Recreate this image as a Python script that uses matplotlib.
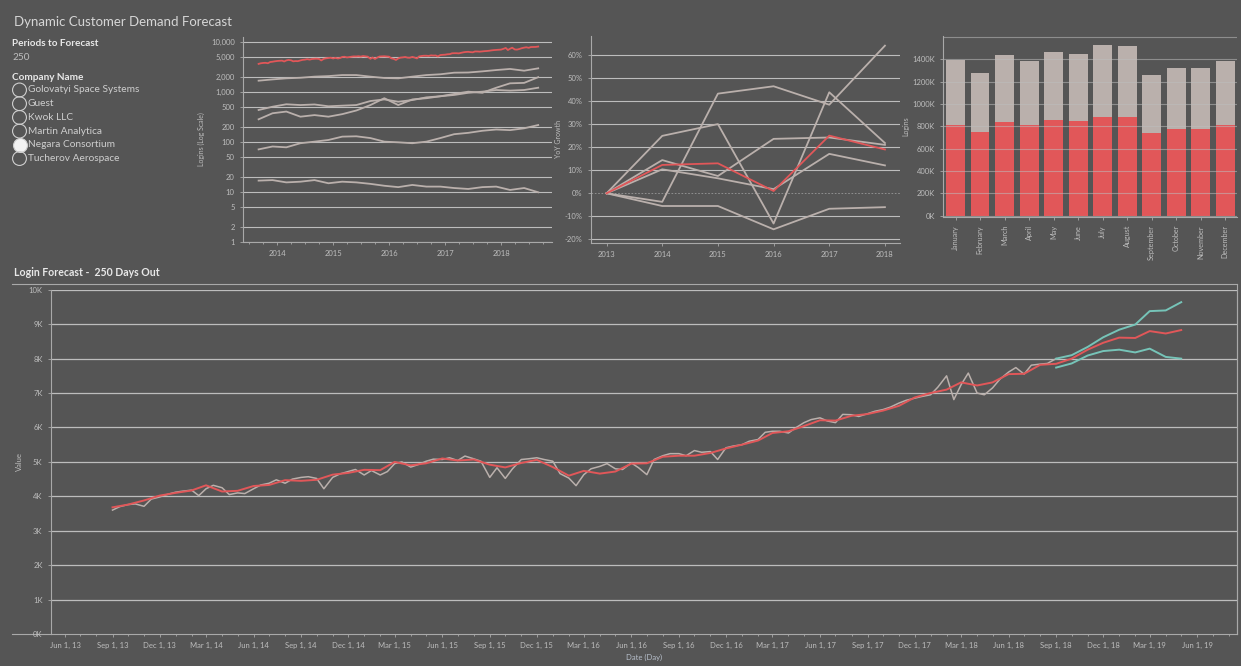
import matplotlib.pyplot as plt
import matplotlib.dates as mdates
import matplotlib.ticker as mticker
import numpy as np
import pandas as pd

BG = "#555555"
RED = "#e15759"
GRAY = "#bab0ac"
TEAL = "#76c4b8"
GRID = "#bdbdbd"
AXIS = "#a9a9a9"
TXT = "#bdbdbd"

plt.rcParams["font.family"] = ["Lato", "DejaVu Sans"]

title = "Dynamic Customer Demand Forecast"
periods = 250
companies = ["Golovatyi Space Systems", "Guest", "Kwok LLC", "Martin Analytica",
             "Negara Consortium", "Tucherov Aerospace"]
selected = "Negara Consortium"

# Negara logins (K), read twice a month from 2013-09-01 to 2018-09-01
actual = [3.60, 3.70, 3.76, 3.78, 3.71, 3.92, 3.98, 4.05,
          4.12, 4.15, 4.18, 4.02, 4.22, 4.32, 4.25, 4.05, 4.10, 4.08, 4.22, 4.33,
          4.38, 4.48, 4.38, 4.50, 4.55, 4.57, 4.52, 4.22, 4.55, 4.65, 4.72, 4.78,
          4.62, 4.75, 4.62, 4.72, 4.95, 5.00, 4.85, 4.92, 5.02, 5.08, 5.07, 5.12,
          5.04, 5.17, 5.09, 5.02, 4.55, 4.83, 4.52, 4.80, 5.07, 5.09, 5.12, 5.07,
          5.02, 4.66, 4.53, 4.31, 4.63, 4.80, 4.87, 4.95, 4.80, 4.78, 4.97, 4.83,
          4.63, 5.07, 5.18, 5.24, 5.24, 5.18, 5.33, 5.28, 5.30, 5.07, 5.41, 5.46,
          5.50, 5.60, 5.65, 5.86, 5.89, 5.89, 5.84, 5.99, 6.14, 6.23, 6.28, 6.19,
          6.14, 6.38, 6.37, 6.32, 6.40, 6.47, 6.52, 6.59, 6.71, 6.79, 6.85, 6.90,
          6.95, 7.17, 7.50, 6.81, 7.24, 7.58, 7.00, 6.95, 7.15, 7.40, 7.61, 7.74,
          7.55, 7.81, 7.84, 7.86, 8.00]

# smoothed trend + forecast (K), monthly from 2013-09 to 2019-05
trend = [3.68, 3.76, 3.88, 4.02,
         4.10, 4.17, 4.32, 4.14, 4.16, 4.30, 4.33, 4.47, 4.45, 4.48, 4.63, 4.68,
         4.77, 4.76, 5.00, 4.90, 4.96, 5.10, 5.04, 5.07, 4.92, 4.84, 4.97, 5.06,
         4.85, 4.60, 4.74, 4.66, 4.72, 4.95, 4.96, 5.15, 5.18, 5.18, 5.26, 5.39,
         5.50, 5.62, 5.84, 5.89, 6.04, 6.21, 6.20, 6.34, 6.39, 6.49, 6.63, 6.87,
         7.00, 7.10, 7.31, 7.22, 7.31, 7.55, 7.56, 7.82, 7.85, 8.00, 8.26, 8.46,
         8.61, 8.60, 8.80, 8.73, 8.83]

# forecast bounds (K), monthly from 2018-09 to 2019-05
upper = [8.00, 8.10, 8.34, 8.62, 8.84, 8.99, 9.38, 9.40, 9.64]
lower = [7.74, 7.86, 8.09, 8.22, 8.26, 8.18, 8.29, 8.05, 8.00]

# other companies for the log chart, quarterly from 2013-09 to 2018-09
others = [
    [1660, 1760, 1850, 1900, 2000, 2050, 2150, 2150, 2000, 1880, 1850, 2000,
     2150, 2230, 2400, 2420, 2550, 2710, 2850, 2630, 2930],
    [430, 500, 560, 540, 555, 510, 525, 540, 650, 700, 630, 680,
     770, 810, 860, 950, 1000, 1080, 1050, 1080, 1200],
    [280, 370, 400, 316, 340, 316, 355, 420, 540, 740, 540, 700,
     740, 810, 900, 1000, 950, 1200, 1470, 1500, 1950],
    [70, 80, 77, 93, 100, 108, 126, 128, 118, 100, 97, 93,
     100, 118, 141, 150, 165, 175, 170, 185, 215],
    [16.6, 17, 15.3, 15.8, 17, 14.7, 15.8, 15.3, 14.3, 13.1, 12.3, 13.6,
     12.6, 12.6, 11.8, 11.3, 12.3, 12.6, 10.8, 11.8, 9.7],
]

yoy_years = [2013, 2014, 2015, 2016, 2017, 2018]
yoy_selected = [0, 12.3, 13.0, 1.0, 25.0, 19.0]
yoy_others = [
    [0, -3.7, 43.2, 46.4, 38.4, 64.0],
    [0, 24.9, 30.0, -13.1, 43.8, 21.8],
    [0, 14.4, 7.5, 23.6, 24.2, 21.0],
    [0, 10.4, 6.5, 1.8, 17.1, 12.1],
    [0, -5.5, -5.5, -15.6, -6.7, -6.0],
]

months = ["January", "February", "March", "April", "May", "June", "July",
          "August", "September", "October", "November", "December"]
logins_selected = [817, 748, 840, 811, 855, 846, 888, 882, 742, 775, 775, 811]
logins_total = [1398, 1275, 1439, 1386, 1463, 1448, 1529, 1520, 1258, 1320, 1320, 1386]


def style(ax):
    ax.set_facecolor("none")
    for s in ax.spines.values():
        s.set_color(AXIS)
        s.set_linewidth(0.8)
    ax.tick_params(colors=AXIS, labelcolor=TXT, labelsize=5.5, length=2.5, width=0.6)


fig = plt.figure(figsize=(12.41, 6.66), dpi=100)
fig.patch.set_facecolor(BG)

# overlay for the filter panel and frame lines (pixel coordinates)
ov = fig.add_axes([0, 0, 1, 1])
ov.set_xlim(0, 1241)
ov.set_ylim(666, 0)
ov.axis("off")
ov.text(14, 22, title, color="#d6d6d6", fontsize=9.5, va="center")
ov.text(12, 44, "Periods to Forecast", color="#e8e8e8", fontsize=7.2, fontweight="bold", va="center")
ov.text(12, 58, str(periods), color="#bdbdbd", fontsize=7.2, va="center")
ov.text(12, 77, "Company Name", color="#e8e8e8", fontsize=7.2, fontweight="bold", va="center")
for i, name in enumerate(companies):
    y = 90 + i * 13.7
    face = "#f2f2f2" if name == selected else "none"
    ov.scatter([19.5], [y], s=100, facecolor=face, edgecolor="#cfcfcf", linewidth=0.8)
    ov.text(28, y, name, color="#cfcfcf", fontsize=7.3, va="center")
ov.text(14, 273, "Login Forecast -  250 Days Out", color="#e8e8e8", fontsize=7.6,
        fontweight="bold", va="center")
ov.plot([12, 1237], [284.3, 284.3], color=AXIS, lw=0.8)
ov.plot([12, 51], [634, 634], color=AXIS, lw=0.8)

# log chart
ax1 = fig.add_axes([0.1958, 0.6366, 0.249, 0.3083])
style(ax1)
qdates = pd.date_range("2013-09-01", periods=len(others[0]), freq="3MS")
sdates = pd.date_range("2013-09-01", periods=len(actual), freq="SMS")
for vals in others:
    ax1.plot(qdates, vals, color=GRAY, lw=1.3)
ax1.plot(sdates, np.array(actual) * 1000, color=RED, lw=1.3)
ax1.set_yscale("log")
ax1.set_ylim(0.98, 12600)
log_ticks = [1, 2, 5, 10, 20, 50, 100, 200, 500, 1000, 2000, 5000, 10000]
ax1.yaxis.set_major_locator(mticker.FixedLocator(log_ticks))
ax1.yaxis.set_minor_locator(mticker.NullLocator())
ax1.yaxis.set_major_formatter(mticker.FuncFormatter(lambda v, p: f"{v:,.0f}"))
ax1.grid(axis="y", color=GRID, lw=0.8)
ax1.set_xlim(pd.Timestamp("2013-05-22"), pd.Timestamp("2018-11-30"))
ax1.xaxis.set_major_locator(mdates.YearLocator())
ax1.xaxis.set_minor_locator(mdates.MonthLocator(bymonth=[4, 7, 10]))
ax1.xaxis.set_major_formatter(mdates.DateFormatter("%Y"))
ax1.tick_params(axis="x", which="minor", colors=AXIS, length=1.5)
ax1.spines[["top", "right"]].set_visible(False)
ax1.set_ylabel("Logins (Log Scale)", color=TXT, fontsize=5)

# YoY growth chart
ax2 = fig.add_axes([0.4762, 0.6356, 0.249, 0.3104])
style(ax2)
for vals in yoy_others:
    ax2.plot(yoy_years, vals, color=GRAY, lw=1.3)
ax2.plot(yoy_years, yoy_selected, color=RED, lw=1.3)
ax2.set_ylim(-21.4, 68.2)
ax2.set_xlim(2012.72, 2018.27)
ax2.set_yticks(range(-20, 61, 10))
ax2.yaxis.set_major_formatter(mticker.FuncFormatter(lambda v, p: f"{v:.0f}%"))
ax2.set_xticks(yoy_years)
for t in range(-20, 61, 10):
    if t == 0:
        ax2.axhline(0, color="#9a9a9a", lw=0.6, ls=(0, (2, 2)), zorder=0)
    else:
        ax2.axhline(t, color=GRID, lw=0.8, zorder=0)
ax2.spines[["top", "right"]].set_visible(False)
ax2.set_ylabel("YoY Growth", color=TXT, fontsize=5, labelpad=2)

# monthly logins bar chart
ax3 = fig.add_axes([0.7601, 0.6746, 0.2364, 0.2713])
style(ax3)
xpos = np.arange(len(months))
sel = np.array(logins_selected) * 1000
tot = np.array(logins_total) * 1000
ax3.bar(xpos, sel, width=0.77, color=RED, zorder=1)
ax3.bar(xpos, tot - sel, bottom=sel, width=0.77, color=GRAY, zorder=1)
ax3.set_ylim(-9000, 1610000)
ax3.set_xlim(-0.5, 11.47)
ax3.set_yticks(range(0, 1400001, 200000))
ax3.yaxis.set_major_formatter(mticker.FuncFormatter(lambda v, p: f"{v / 1000:.0f}K"))
for t in range(0, 1600001, 200000):
    ax3.axhline(t, color=GRID, lw=0.8, alpha=0.55, zorder=2)
ax3.set_xticks(xpos)
ax3.set_xticklabels(months, rotation=90, fontsize=5.2)
ax3.spines[["top", "right"]].set_visible(False)
ax3.set_ylabel("Logins", color=TXT, fontsize=5, labelpad=2)

# forecast chart
ax4 = fig.add_axes([0.0411, 0.0480, 0.9557, 0.5169])
style(ax4)
mdates_m = pd.date_range("2013-09-01", periods=len(trend), freq="MS")
fdates = pd.date_range("2018-09-01", periods=len(upper), freq="MS")
ax4.plot(sdates, np.array(actual) * 1000, color=GRAY, lw=1.1)
ax4.plot(mdates_m, np.array(trend) * 1000, color=RED, lw=1.4)
ax4.plot(fdates, np.array(upper) * 1000, color=TEAL, lw=1.4)
ax4.plot(fdates, np.array(lower) * 1000, color=TEAL, lw=1.4)
ax4.set_ylim(0, 10000)
ax4.set_yticks(range(0, 10001, 1000))
ax4.yaxis.set_major_formatter(mticker.FuncFormatter(lambda v, p: f"{v / 1000:.0f}K"))
for t in range(1000, 10001, 1000):
    ax4.axhline(t, color=GRID, lw=0.9, zorder=0)
ax4.set_xlim(pd.Timestamp("2013-05-05"), pd.Timestamp("2019-08-17"))
ax4.xaxis.set_major_locator(mdates.MonthLocator(bymonth=[3, 6, 9, 12]))
ax4.xaxis.set_minor_locator(mdates.MonthLocator())
ax4.xaxis.set_major_formatter(
    mticker.FuncFormatter(lambda v, p: (lambda d: f"{d:%b} {d.day}, {d:%y}")(mdates.num2date(v))))
ax4.tick_params(axis="x", which="minor", colors=AXIS, length=1.5)
ax4.spines["top"].set_visible(False)
ax4.set_ylabel("Value", color=TXT, fontsize=5.5, labelpad=4)
ax4.set_xlabel("Date (Day)", color="#b8c0cc", fontsize=5.5, labelpad=3)
ov.plot([1237, 1237], [284.3, 634], color=AXIS, lw=0.8)

fig.savefig("out.png", dpi=100, facecolor=BG)
